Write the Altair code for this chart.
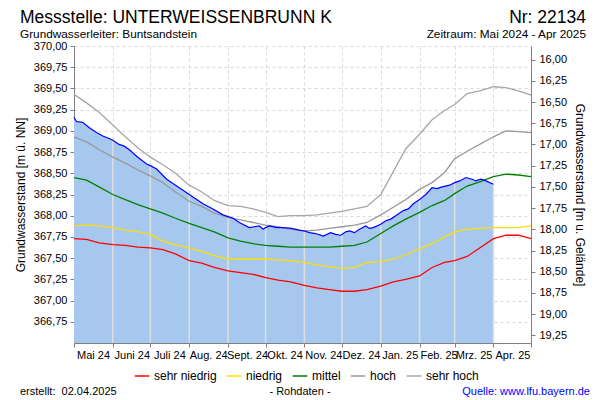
import json
import altair as alt
import pandas as pd

FONT = "Liberation Sans"

TITLE = "Messstelle: UNTERWEISSENBRUNN K"
NR = "Nr: 22134"
SUBTITLE = "Grundwasserleiter: Buntsandstein"
PERIOD = "Zeitraum: Mai 2024 - Apr 2025"
CREATED = "erstellt:\u00a0 02.04.2025"
RAW = "- Rohdaten -"
SOURCE = "Quelle: www.lfu.bayern.de"
Y_TITLE_LEFT = "Grundwasserstand [m ü. NN]"
Y_TITLE_RIGHT = "Grundwasserstand [m u. Gelände]"

MONTH_LABELS = ["Mai 24", "Juni 24", "Juli 24", "Aug. 24", "Sept. 24", "Okt. 24",
                "Nov. 24", "Dez. 24", "Jan. 25", "Feb. 25", "Mrz. 25", "Apr. 25"]

CLASSES = ["sehr niedrig", "niedrig", "mittel", "hoch", "sehr hoch"]
CLASS_COLORS = ["#ff0000", "#ffdd00", "#008000", "#999999", "#a6a6a6"]

REF_DATES = [
    "2024-05-01", "2024-05-11", "2024-05-21", "2024-06-01", "2024-06-11", "2024-06-21",
    "2024-07-01", "2024-07-11", "2024-07-21", "2024-08-01", "2024-08-11", "2024-08-21",
    "2024-09-01", "2024-09-11", "2024-09-21", "2024-10-01", "2024-10-11", "2024-10-21",
    "2024-11-01", "2024-11-11", "2024-11-21", "2024-12-01", "2024-12-11", "2024-12-21",
    "2025-01-01", "2025-01-11", "2025-01-21", "2025-02-01", "2025-02-11", "2025-02-21",
    "2025-03-01", "2025-03-11", "2025-03-21", "2025-04-01", "2025-04-11", "2025-04-21",
    "2025-05-01",
]
SEHR_HOCH = [369.43, 369.33, 369.22, 369.07, 368.93, 368.80, 368.69, 368.60, 368.50,
             368.36, 368.28, 368.18, 368.12, 368.11, 368.08, 368.04, 367.99, 368.00,
             368.00, 368.01, 368.03, 368.05, 368.08, 368.11, 368.25, 368.52, 368.79,
             368.96, 369.13, 369.24, 369.31, 369.44, 369.47, 369.52, 369.51, 369.47, 369.42]
HOCH = [368.93, 368.87, 368.78, 368.69, 368.62, 368.54, 368.47, 368.39, 368.28,
        368.17, 368.11, 368.03, 367.98, 367.95, 367.92, 367.89, 367.87, 367.84,
        367.82, 367.83, 367.85, 367.87, 367.89, 367.92, 368.01, 368.10, 368.19,
        368.31, 368.39, 368.51, 368.67, 368.76, 368.84, 368.93, 369.00, 368.99, 368.98]
MITTEL = [368.45, 368.42, 368.34, 368.25, 368.19, 368.13, 368.08, 368.03, 367.97,
          367.91, 367.86, 367.81, 367.74, 367.70, 367.67, 367.65, 367.64, 367.63,
          367.63, 367.63, 367.63, 367.64, 367.65, 367.69, 367.79, 367.88, 367.96,
          368.04, 368.12, 368.18, 368.26, 368.35, 368.40, 368.46, 368.49, 368.48, 368.46]
NIEDRIG = [367.88, 367.89, 367.88, 367.86, 367.83, 367.81, 367.78, 367.70, 367.66,
           367.62, 367.58, 367.53, 367.49, 367.49, 367.49, 367.49, 367.48, 367.47,
           367.45, 367.42, 367.40, 367.38, 367.39, 367.45, 367.46, 367.49, 367.54,
           367.61, 367.67, 367.75, 367.81, 367.84, 367.85, 367.86, 367.86, 367.86, 367.88]
SEHR_NIEDRIG = [367.73, 367.72, 367.68, 367.66, 367.65, 367.63, 367.62, 367.60, 367.55,
                367.47, 367.44, 367.39, 367.35, 367.33, 367.31, 367.27, 367.24, 367.22,
                367.18, 367.15, 367.13, 367.11, 367.11, 367.13, 367.17, 367.22, 367.25,
                367.29, 367.39, 367.45, 367.47, 367.52, 367.62, 367.73, 367.77, 367.77, 367.73]

MEAS_DATES = [
    "2024-05-01", "2024-05-03", "2024-05-08", "2024-05-13", "2024-05-19", "2024-05-24",
    "2024-05-29", "2024-06-01", "2024-06-06", "2024-06-10", "2024-06-14", "2024-06-20",
    "2024-06-28", "2024-07-01", "2024-07-06", "2024-07-14", "2024-07-22", "2024-07-30",
    "2024-08-01", "2024-08-07", "2024-08-12", "2024-08-20", "2024-08-28", "2024-09-01",
    "2024-09-05", "2024-09-10", "2024-09-18", "2024-09-22", "2024-09-26", "2024-09-29",
    "2024-10-01", "2024-10-04", "2024-10-10", "2024-10-15", "2024-10-22", "2024-10-28",
    "2024-11-01", "2024-11-05", "2024-11-10", "2024-11-16", "2024-11-22", "2024-11-26",
    "2024-11-30", "2024-12-01", "2024-12-04", "2024-12-07", "2024-12-11", "2024-12-15",
    "2024-12-20", "2024-12-23", "2024-12-26", "2025-01-01", "2025-01-05", "2025-01-09",
    "2025-01-13", "2025-01-19", "2025-01-23", "2025-01-27", "2025-02-01", "2025-02-06",
    "2025-02-11", "2025-02-15", "2025-02-19", "2025-02-25", "2025-03-01", "2025-03-05",
    "2025-03-10", "2025-03-15", "2025-03-18", "2025-03-22", "2025-03-26", "2025-04-01",
]
MEAS = [369.16, 369.11, 369.10, 369.04, 368.98, 368.94,
        368.91, 368.89, 368.84, 368.82, 368.78, 368.70,
        368.61, 368.59, 368.55, 368.43, 368.35, 368.27,
        368.25, 368.19, 368.14, 368.08, 368.01, 367.99,
        367.97, 367.92, 367.86, 367.87, 367.88, 367.84,
        367.86, 367.88, 367.86, 367.86, 367.85, 367.83,
        367.82, 367.80, 367.79, 367.76, 367.80, 367.78,
        367.77, 367.78, 367.81, 367.82, 367.80, 367.84,
        367.88, 367.85, 367.86, 367.90, 367.94, 367.96,
        368.00, 368.06, 368.08, 368.14, 368.19, 368.25,
        368.33, 368.32, 368.34, 368.36, 368.39, 368.41,
        368.45, 368.43, 368.41, 368.43, 368.41, 368.37]

Y_DOMAIN = [366.5, 370.0]
Y_TICKS = [366.75 + 0.25 * i for i in range(14)]
GOK = 385.84
R_DOMAIN = [round(GOK - Y_DOMAIN[1], 2), round(GOK - Y_DOMAIN[0], 2)]
R_TICKS = [16.0 + 0.25 * i for i in range(14)]

ref = pd.DataFrame({"date": pd.to_datetime(REF_DATES), "sehr niedrig": SEHR_NIEDRIG,
                    "niedrig": NIEDRIG, "mittel": MITTEL, "hoch": HOCH, "sehr hoch": SEHR_HOCH})
ref_long = ref.melt("date", var_name="Klasse", value_name="wert")
meas = pd.DataFrame({"date": pd.to_datetime(MEAS_DATES), "wert": MEAS})

GRID = "#d9d9d9"
AXC = "#808080"
comma = "replace(format(datum.value, '.2f'), '.', ',')"

month_vals = [alt.DateTime(year=2024 + (4 + i) // 12, month=(4 + i) % 12 + 1, date=1) for i in range(13)]
x_scale = alt.Scale(domain=[month_vals[0], month_vals[-1]])
x_axis = alt.Axis(values=month_vals, title=None, grid=True, gridDash=[3, 3], gridColor=GRID,
                  domainColor=AXC, tickColor=AXC, tickSize=4, labelPadding=2,
                  labelFontSize=11, labelColor="#000", labelOffset=19, labelAlign="center",
                  labelFlush=False, labelOverlap=False, labelBound=False,
                  labelExpr=f"{json.dumps(MONTH_LABELS)}[(year(datum.value)-2024)*12+month(datum.value)-4] || ''")
X = alt.X("date:T", scale=x_scale, axis=x_axis)

y_scale = alt.Scale(domain=Y_DOMAIN, nice=False, zero=False)
y_axis = alt.Axis(values=Y_TICKS, labelExpr=comma, title=Y_TITLE_LEFT, grid=True, gridDash=[3, 3],
                  gridColor=GRID, domainColor=AXC, tickColor=AXC, tickSize=4, labelFontSize=11,
                  labelColor="#000", titleFontSize=12, titleFontWeight="normal", titleColor="#000",
                  titlePadding=6, labelPadding=3)
Y = alt.Y("wert:Q", scale=y_scale, axis=y_axis)

area = alt.Chart(meas).mark_area(color="#a6c8ef", opacity=1).encode(
    x=X, y=Y, y2=alt.datum(Y_DOMAIN[0]))
rules = alt.Chart(meas).transform_filter(
    "date(datum.date) == 1 && !(year(datum.date) == 2024 && month(datum.date) == 4)"
).mark_rule(color="#dedede", strokeWidth=1.5).encode(x=X, y=Y, y2=alt.datum(Y_DOMAIN[0]))
lines = alt.Chart(ref_long).mark_line(strokeWidth=1.3).encode(
    x=X, y=Y,
    color=alt.Color("Klasse:N", scale=alt.Scale(domain=CLASSES, range=CLASS_COLORS),
                    legend=alt.Legend(orient="none", legendX=60, legendY=322, direction="horizontal",
                                      title=None, symbolType="stroke", symbolSize=210,
                                      symbolStrokeWidth=1.5, labelFontSize=12, labelFont=FONT,
                                      labelColor="#000", labelOffset=4, columnPadding=6,
                                      labelLimit=0, padding=0)))
meas_line = alt.Chart(meas).mark_line(color="#0000ff", strokeWidth=1.2).encode(x=X, y=Y)

left = alt.layer(area, rules, lines, meas_line)

right = alt.Chart(meas).transform_calculate(tiefe=f"{GOK} - datum.wert").mark_line(opacity=0).encode(
    x=X,
    y=alt.Y("tiefe:Q", scale=alt.Scale(domain=R_DOMAIN, reverse=True, nice=False, zero=False),
            axis=alt.Axis(orient="right", values=R_TICKS, labelExpr=comma, title=Y_TITLE_RIGHT,
                          grid=False, domainColor=AXC, tickColor=AXC, tickSize=4, labelFontSize=11,
                          labelColor="#000", titleFontSize=12, titleFontWeight="normal",
                          titleColor="#000", titleAngle=90, titlePadding=6, labelPadding=4)))


def txt(s, x, y, size, align="left", color="#000"):
    return alt.Chart(pd.DataFrame({"t": [s]})).mark_text(
        align=align, baseline="alphabetic", fontSize=size, font=FONT, color=color
    ).encode(text="t:N", x=alt.value(x), y=alt.value(y))


texts = [
    txt(TITLE, -54, -22.7, 17.5),
    txt(NR, 512, -22.7, 17.5, "right"),
    txt(SUBTITLE, -54, -8.2, 11.8),
    txt(PERIOD, 512, -8.2, 11.8, "right"),
    txt(CREATED, -54, 349, 11),
    txt(RAW, 226, 349, 11, "center"),
    txt(SOURCE, 516, 349, 11, "right", "#0000ff"),
]

chart = alt.layer(left, right, *texts).resolve_scale(y="independent").properties(
    width=457, height=297, autosize=alt.AutoSizeParams(type="none"),
    padding={"left": 66, "top": 38, "right": 61, "bottom": 55},
).configure(font=FONT).configure_view(stroke=None)

chart.save("out.html", embed_options={"renderer": "svg", "actions": False})
